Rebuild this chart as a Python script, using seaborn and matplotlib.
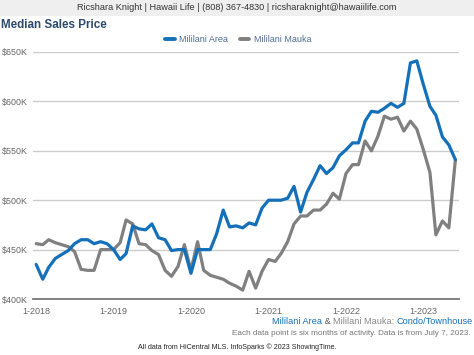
import numpy as np
import pandas as pd
import matplotlib
matplotlib.use('Agg')
import matplotlib.pyplot as plt
import matplotlib.dates as mdates
from matplotlib.lines import Line2D
from matplotlib.patches import Rectangle
import seaborn as sns

# monthly points, each one is a six month rolling median (in $K)
months = pd.date_range('2018-01-01', '2023-06-01', freq='MS')
area = [435, 420, 432, 441, 445, 449, 456, 460, 460, 456, 458, 456,
        450, 440, 446, 474, 471, 470, 476, 462, 460, 449, 450, 450,
        426, 450, 450, 450, 466, 490, 473, 474, 472, 477, 475, 492,
        500, 500, 500, 502, 514, 488, 508, 521, 535, 527, 533, 545,
        551, 558, 558, 580, 590, 589, 593, 598, 594, 598, 639, 641,
        617, 595, 586, 564, 556, 541]
mauka = [456, 455, 460, 457, 455, 453, 448, 430, 429, 429, 450, 450,
         450, 457, 480, 476, 456, 455, 449, 445, 429, 423, 433, 455,
         429, 458, 429, 424, 422, 420, 416, 413, 409, 428, 411, 428,
         440, 438, 446, 458, 476, 484, 484, 490, 490, 496, 507, 501,
         527, 536, 536, 560, 550, 565, 585, 582, 584, 570, 580, 572,
         551, 528, 465, 479, 472, 541]
series_names = ['Mililani Area', 'Mililani Mauka']
y_ticks = [400, 450, 500, 550, 600, 650]
year_labels = ['1-2018', '1-2019', '1-2020', '1-2021', '1-2022', '1-2023']

BLUE = '#1470b8'
GRAY = '#808080'
colors = {'Mililani Area': BLUE, 'Mililani Mauka': GRAY}

sns.set_style('white')
plt.rcParams['font.family'] = ['Liberation Sans', 'DejaVu Sans']

df = pd.DataFrame({'month': months, 'Mililani Area': area, 'Mililani Mauka': mauka})
df = df.melt(id_vars='month', var_name='series', value_name='price')

W, H = 474, 355
fig = plt.figure(figsize=(W / 100, H / 100), dpi=100)

# header band
fig.patches.append(Rectangle((0, 1 - 16 / H), 1, 16 / H, transform=fig.transFigure,
                             facecolor='#efefef', edgecolor='none', zorder=0))
fig.text(0.5, 1 - 7.5 / H,
         'Ricshara Knight | Hawaii Life | (808) 367-4830 | ricsharaknight@hawaiilife.com',
         ha='center', va='center', fontsize=6.6, color='#333333')
fig.text(1 / W, 1 - 25 / H, 'Median Sales Price', ha='left', va='center',
         fontsize=8.4, fontweight='bold', color='#2e4b6d')

# axes: left 33px, right 459px, bottom 299px, top 52px
ax = fig.add_axes([33 / W, (H - 299) / H, 426 / W, 247 / H])
sns.lineplot(data=df, x='month', y='price', hue='series',
             hue_order=['Mililani Mauka', 'Mililani Area'], palette=colors,
             linewidth=2.3, ax=ax, legend=False)

ax.set_ylim(400, 650)
ax.set_xlim(pd.Timestamp('2017-12-17'), pd.Timestamp('2023-06-18'))
ax.set_yticks(y_ticks)
ax.set_yticklabels([f'${v}K' for v in y_ticks])
ax.set_xticks(pd.to_datetime([f'{y[2:]}-01-01' for y in year_labels]))
ax.set_xticklabels(year_labels)
ax.set_xlabel('')
ax.set_ylabel('')
ax.grid(axis='y', color='#cccccc', linewidth=1)
ax.grid(axis='x', visible=False)
for s in ['top', 'right', 'left']:
    ax.spines[s].set_visible(False)
ax.spines['bottom'].set_color('#777777')
ax.spines['bottom'].set_linewidth(1.3)
ax.tick_params(axis='y', length=0, pad=4, labelsize=6.4, labelcolor='#666666')
ax.tick_params(axis='x', length=3, width=1, color='#777777', pad=2.5,
               labelsize=6.5, labelcolor='#666666')

handles = [Line2D([], [], color=colors[n], linewidth=2.8) for n in series_names]
leg = fig.legend(handles, series_names, loc='center', bbox_to_anchor=(238 / W, 1 - 40 / H),
                 ncol=2, frameon=False, fontsize=6.5, handlelength=1.1,
                 handletextpad=0.45, columnspacing=1.3, labelcolor='#4f6f94')

# footnotes
renderer = fig.canvas.get_renderer()
pieces = [('Mililani Area', BLUE), (' & ', '#555555'), ('Mililani Mauka: ', '#888888'),
          ('Condo/Townhouse', BLUE)]
x = 473 / W
for txt, col in reversed(pieces):
    t = fig.text(x, 1 - 322 / H, txt, ha='right', va='center', fontsize=6.6, color=col)
    bb = t.get_window_extent(renderer)
    x -= bb.width / W
fig.text(471 / W, 1 - 333.5 / H,
         'Each data point is six months of activity. Data is from July 7, 2023.',
         ha='right', va='center', fontsize=5.9, color='#777777')
fig.text(237 / W, 1 - 347.5 / H,
         'All data from HiCentral MLS. InfoSparks \u00a9 2023 ShowingTime.',
         ha='center', va='center', fontsize=5.1, color='#222222')

fig.savefig('out.png', dpi=100)
